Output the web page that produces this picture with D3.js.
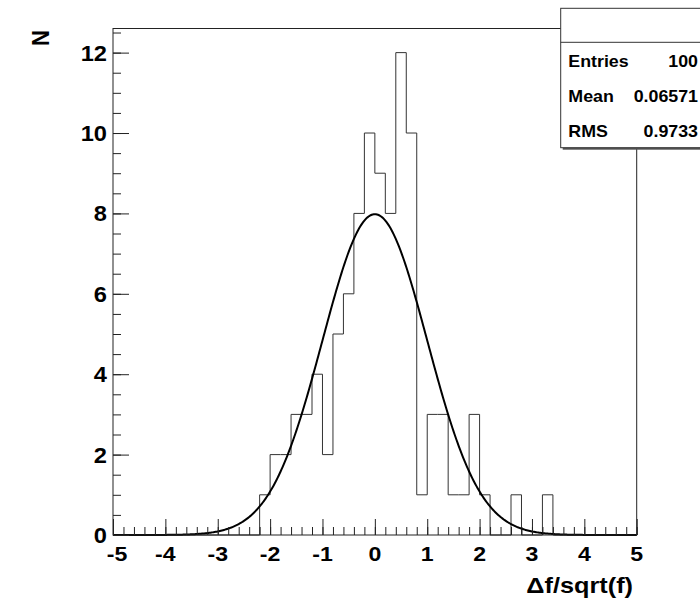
<!DOCTYPE html>
<html>
<head>
<meta charset="utf-8">
<script src="https://cdn.jsdelivr.net/npm/d3@7"></script>
<style>
  html, body { margin: 0; padding: 0; background: #fff; }
  svg { display: block; }
  text { font-family: "Liberation Sans", Arial, Helvetica, sans-serif; font-weight: bold; }
</style>
</head>
<body>
<svg id="chart" width="700" height="598"></svg>
<script>
// ---- data ----
const binLowEdges = [-5.0,-4.8,-4.6,-4.4,-4.2,-4.0,-3.8,-3.6,-3.4,-3.2,-3.0,-2.8,-2.6,-2.4,-2.2,-2.0,-1.8,-1.6,-1.4,-1.2,-1.0,-0.8,-0.6,-0.4,-0.2,0.0,0.2,0.4,0.6,0.8,1.0,1.2,1.4,1.6,1.8,2.0,2.2,2.4,2.6,2.8,3.0,3.2,3.4,3.6,3.8,4.0,4.2,4.4,4.6,4.8];
const binWidth = 0.2;
const counts = [0,0,0,0,0,0,0,0,0,0,0,0,0,0,1,2,2,3,3,4,2,5,6,8,10,9,8,12,10,1,3,3,1,1,3,1,0,0,1,0,0,1,0,0,0,0,0,0,0,0];
const fitParams = [7.98, 0.0, 1.0]; // constant, mean, sigma of gaussian fit
const xTicks = [-5,-4,-3,-2,-1,0,1,2,3,4,5];
const yTicks = [0,2,4,6,8,10,12];
const statsLabels = ["Entries", "Mean", "RMS"];
const statsValues = ["100", "0.06571", "0.9733"];
const xTitle = "\u0394f/sqrt(f)";
const yTitle = "N";

// ---- layout ----
const svg = d3.select("#chart");
const L = 113, R = 636.7, T = 28.5, B = 535;
const x = d3.scaleLinear().domain([-5, 5]).range([L, R]);
const y = d3.scaleLinear().domain([0, 12.6]).range([B, T]);
const SX = 1.1; // horizontal stretch of glyphs

// histogram step path
const pts = [];
binLowEdges.forEach((lo, i) => {
  pts.push([lo, counts[i]]);
  pts.push([lo + binWidth, counts[i]]);
});
pts.unshift([-5, 0]);
pts.push([5, 0]);
svg.append("path")
  .attr("d", d3.line().x(d => x(d[0])).y(d => y(d[1]))(pts))
  .attr("fill", "none").attr("stroke", "#333").attr("stroke-width", 1);

// fit curve
const fitPts = d3.range(0, 501).map(i => {
  const xv = -5 + i * 0.02;
  const z = (xv - fitParams[1]) / fitParams[2];
  return [xv, fitParams[0] * Math.exp(-0.5 * z * z)];
});
svg.append("path")
  .attr("d", d3.line().x(d => x(d[0])).y(d => y(d[1]))(fitPts))
  .attr("fill", "none").attr("stroke", "#000").attr("stroke-width", 2);

// frame
svg.append("rect").attr("x", L).attr("y", T).attr("width", R - L).attr("height", B - T)
  .attr("fill", "none").attr("stroke", "#222").attr("stroke-width", 1);

// x axis
const xAxis = svg.append("g").attr("transform", `translate(0,${B})`);
xAxis.call(d3.axisBottom(x).tickValues(d3.range(-5, 5.001, 0.2)).tickSize(-8).tickFormat(""))
  .call(g => g.select(".domain").remove())
  .call(g => g.selectAll("line").attr("stroke", "#222"));
xAxis.append("g").call(d3.axisBottom(x).tickValues(xTicks).tickSize(-16).tickFormat(""))
  .call(g => g.select(".domain").remove())
  .call(g => g.selectAll("line").attr("stroke", "#222"));
xAxis.selectAll("text.xl").data(xTicks).enter().append("text")
  .attr("class", "xl")
  .attr("transform", d => `translate(${x(d) + (d === -5 ? 4 : 0)},26) scale(${SX},1)`)
  .attr("text-anchor", "middle")
  .attr("font-size", 21)
  .attr("fill", "#000")
  .text(d => d);

// y axis
const yAxis = svg.append("g").attr("transform", `translate(${L},0)`);
yAxis.call(d3.axisLeft(y).tickValues(d3.range(0, 12.51, 0.5)).tickSize(-8).tickFormat(""))
  .call(g => g.select(".domain").remove())
  .call(g => g.selectAll("line").attr("stroke", "#222"));
yAxis.append("g").call(d3.axisLeft(y).tickValues(yTicks).tickSize(-16).tickFormat(""))
  .call(g => g.select(".domain").remove())
  .call(g => g.selectAll("line").attr("stroke", "#222"));
yAxis.selectAll("text.yl").data(yTicks).enter().append("text")
  .attr("class", "yl")
  .attr("transform", d => `translate(-6,${y(d) + 8}) scale(${SX},1)`)
  .attr("text-anchor", "end")
  .attr("font-size", 21.5)
  .attr("fill", "#000")
  .text(d => d);

// titles
svg.append("text").attr("transform", `translate(633,592.5) scale(1.15,1)`).attr("text-anchor", "end")
  .attr("font-size", 22).attr("fill", "#000").text(xTitle);
svg.append("text").attr("transform", "translate(49,30) rotate(-90) scale(1,1.1)")
  .attr("text-anchor", "end").attr("font-size", 22).attr("fill", "#000").text(yTitle);

// stats box
const bx = 560.7, by = 8.3, bw = 160, bh = 139.4;
svg.append("rect").attr("x", bx + 2).attr("y", by + 2).attr("width", bw).attr("height", bh).attr("fill", "#555");
svg.append("rect").attr("x", bx).attr("y", by).attr("width", bw).attr("height", bh)
  .attr("fill", "#fff").attr("stroke", "#333").attr("stroke-width", 1);
svg.append("line").attr("x1", bx).attr("x2", bx + bw).attr("y1", 42.3).attr("y2", 42.3)
  .attr("stroke", "#333").attr("stroke-width", 1);
const rowY = [66.7, 102.3, 136.7];
statsLabels.forEach((lab, i) => {
  svg.append("text").attr("transform", `translate(568.3,${rowY[i]}) scale(1.08,1)`).attr("font-size", 16.5).attr("fill", "#000").text(lab);
  svg.append("text").attr("transform", `translate(698,${rowY[i]}) scale(1.08,1)`).attr("text-anchor", "end").attr("font-size", 16.5).attr("fill", "#000").text(statsValues[i]);
});
</script>
</body>
</html>
